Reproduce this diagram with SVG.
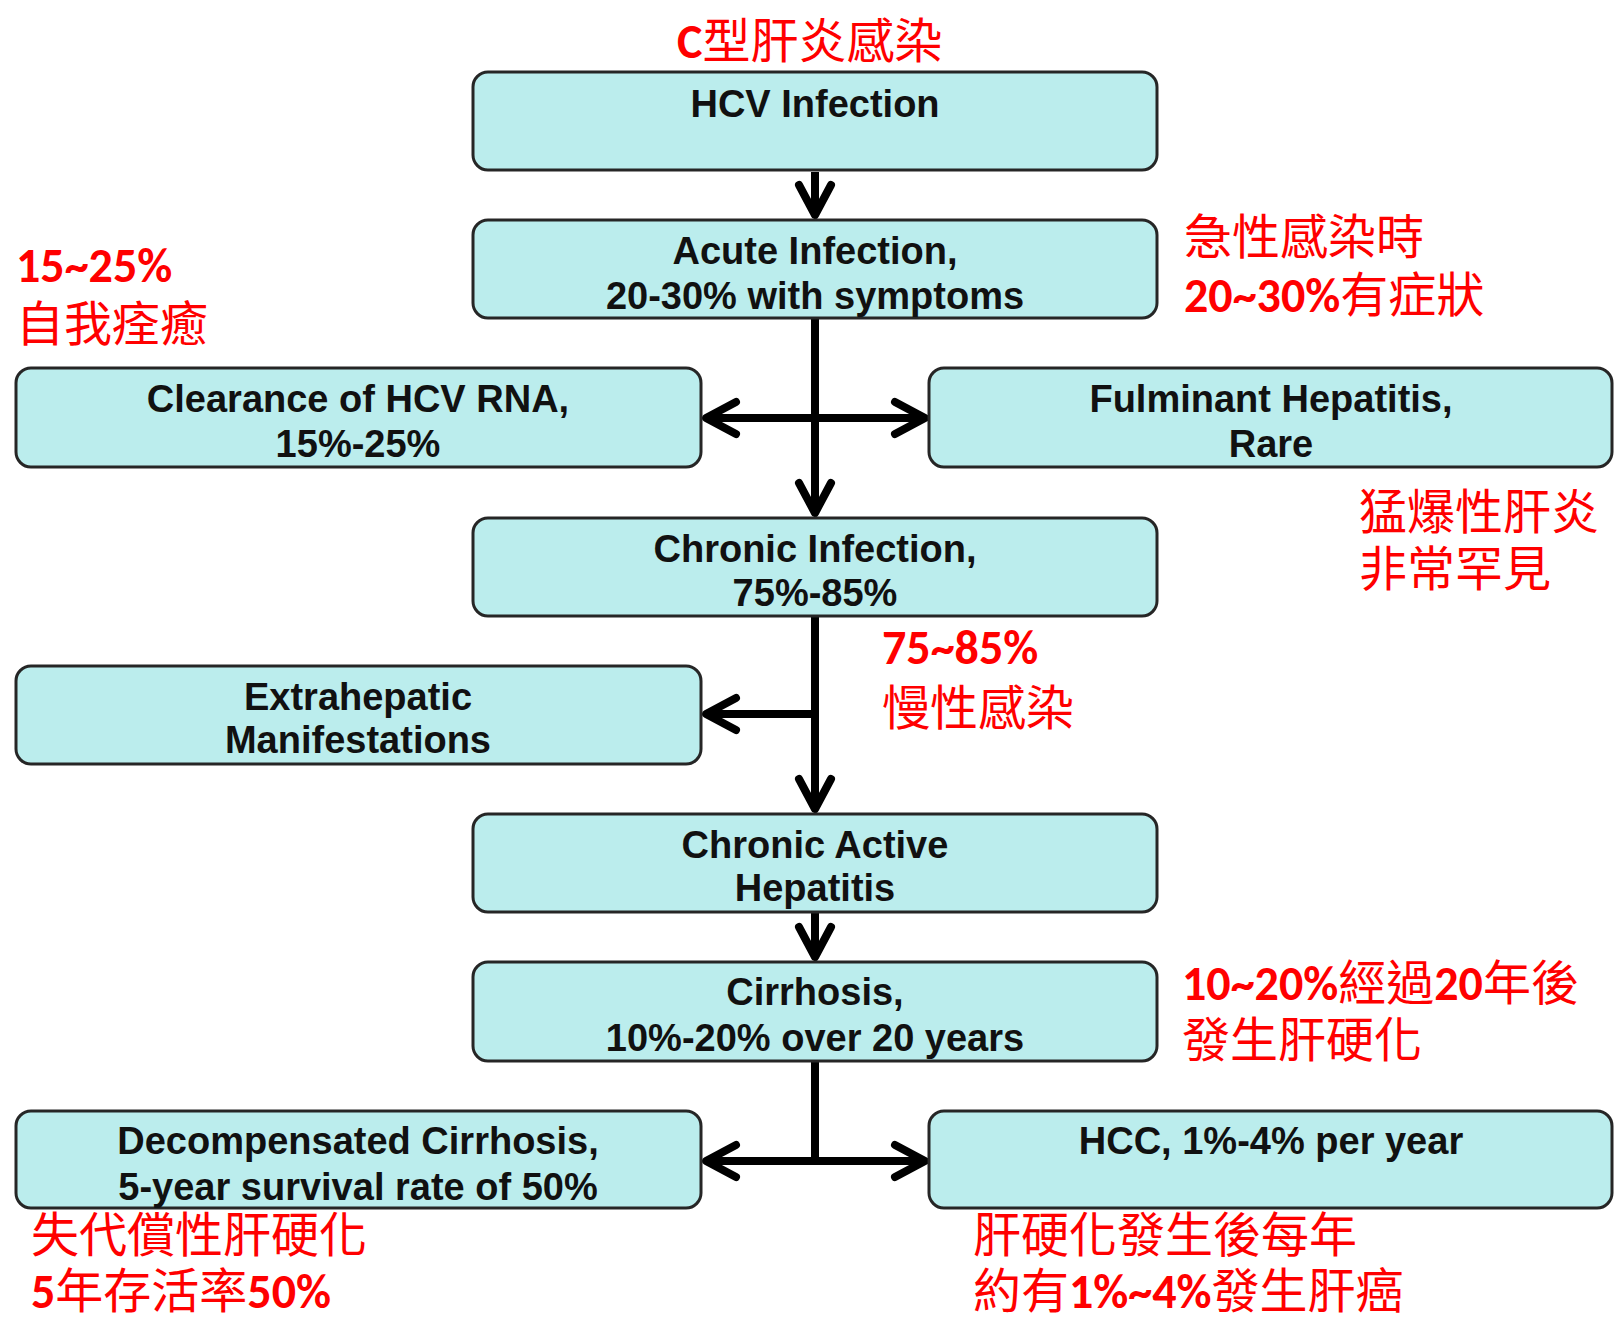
<svg xmlns="http://www.w3.org/2000/svg" width="1614" height="1319" viewBox="0 0 1614 1319">
<style>
.box{fill:#bbeded;stroke:#262626;stroke-width:3}
.t{font-family:"Liberation Sans",Arial,sans-serif;font-weight:bold;font-size:38px;fill:#111;text-anchor:middle}
.r{font-family:"Noto Sans CJK TC","Noto Sans CJK SC",sans-serif;font-size:48px;fill:#ff0000}
.b{font-family:Carlito,"Liberation Sans",Arial,sans-serif;font-weight:bold;font-size:48px}
.c{fill:none;stroke:#000;stroke-width:8}
</style>
<defs>
<marker id="ah" viewBox="-40 -22 48 44" markerUnits="userSpaceOnUse" markerWidth="48" markerHeight="44" refX="0" refY="0" orient="auto-start-reverse">
<path d="M-30,-16 L0,0 L-30,16" fill="none" stroke="#000" stroke-width="8" stroke-linecap="round" stroke-linejoin="round"/>
</marker>
</defs>
<rect width="1614" height="1319" fill="#fff"/>
<g id="connectors">
<path class="c" d="M815,172 V215" marker-end="url(#ah)"/>
<path class="c" d="M815,318 V513" marker-end="url(#ah)"/>
<path class="c" d="M706,418 H925" marker-start="url(#ah)" marker-end="url(#ah)"/>
<path class="c" d="M815,616 V809" marker-end="url(#ah)"/>
<path class="c" d="M815,714 H706" marker-end="url(#ah)"/>
<path class="c" d="M815,912 V957" marker-end="url(#ah)"/>
<path class="c" d="M815,1061 V1161"/>
<path class="c" d="M706,1161 H925" marker-start="url(#ah)" marker-end="url(#ah)"/>
</g>
<g id="n-hcv"><rect class="box" x="473" y="72" width="684" height="98" rx="15"/><text class="t" x="815" y="117">HCV Infection</text></g>
<g id="n-acute"><rect class="box" x="473" y="220" width="684" height="98" rx="15"/><text class="t" x="815" y="264">Acute Infection,</text><text class="t" x="815" y="309">20-30% with symptoms</text></g>
<g id="n-clear"><rect class="box" x="16" y="368" width="685" height="99" rx="15"/><text class="t" x="358" y="412">Clearance of HCV RNA,</text><text class="t" x="358" y="457">15%-25%</text></g>
<g id="n-fulm"><rect class="box" x="929" y="368" width="683" height="99" rx="15"/><text class="t" x="1271" y="412">Fulminant Hepatitis,</text><text class="t" x="1271" y="457">Rare</text></g>
<g id="n-chronic"><rect class="box" x="473" y="518" width="684" height="98" rx="15"/><text class="t" x="815" y="562">Chronic Infection,</text><text class="t" x="815" y="606">75%-85%</text></g>
<g id="n-extra"><rect class="box" x="16" y="666" width="685" height="98" rx="15"/><text class="t" x="358" y="710">Extrahepatic</text><text class="t" x="358" y="753">Manifestations</text></g>
<g id="n-cah"><rect class="box" x="473" y="814" width="684" height="98" rx="15"/><text class="t" x="815" y="858">Chronic Active</text><text class="t" x="815" y="901">Hepatitis</text></g>
<g id="n-cirr"><rect class="box" x="473" y="962" width="684" height="99" rx="15"/><text class="t" x="815" y="1005">Cirrhosis,</text><text class="t" x="815" y="1051">10%-20% over 20 years</text></g>
<g id="n-decomp"><rect class="box" x="16" y="1111" width="685" height="97" rx="15"/><text class="t" x="358" y="1154">Decompensated Cirrhosis,</text><text class="t" x="358" y="1200">5-year survival rate of 50%</text></g>
<g id="n-hcc"><rect class="box" x="929" y="1111" width="683" height="97" rx="15"/><text class="t" x="1271" y="1154">HCC, 1%-4% per year</text></g>
<g id="annotations">
<text class="r" x="677" y="58"><tspan class="b">C</tspan>型肝炎感染</text>
<text class="r" x="1184" y="254">急性感染時</text>
<text class="r" x="1184" y="312"><tspan class="b">20~30%</tspan>有症狀</text>
<text class="r" x="16" y="282"><tspan class="b">15~25%</tspan></text>
<text class="r" x="16" y="341">自我痊癒</text>
<text class="r" x="1359" y="529">猛爆性肝炎</text>
<text class="r" x="1359" y="586">非常罕見</text>
<text class="r" x="882" y="664"><tspan class="b">75~85%</tspan></text>
<text class="r" x="882" y="725">慢性感染</text>
<text class="r" x="1182" y="1000"><tspan class="b">10~20%</tspan>經過<tspan class="b">20</tspan>年後</text>
<text class="r" x="1182" y="1057">發生肝硬化</text>
<text class="r" x="31" y="1252">失代償性肝硬化</text>
<text class="r" x="31" y="1308"><tspan class="b">5</tspan>年存活率<tspan class="b">50%</tspan></text>
<text class="r" x="973" y="1252">肝硬化發生後每年</text>
<text class="r" x="973" y="1308">約有<tspan class="b">1%~4%</tspan>發生肝癌</text>
</g>
</svg>
